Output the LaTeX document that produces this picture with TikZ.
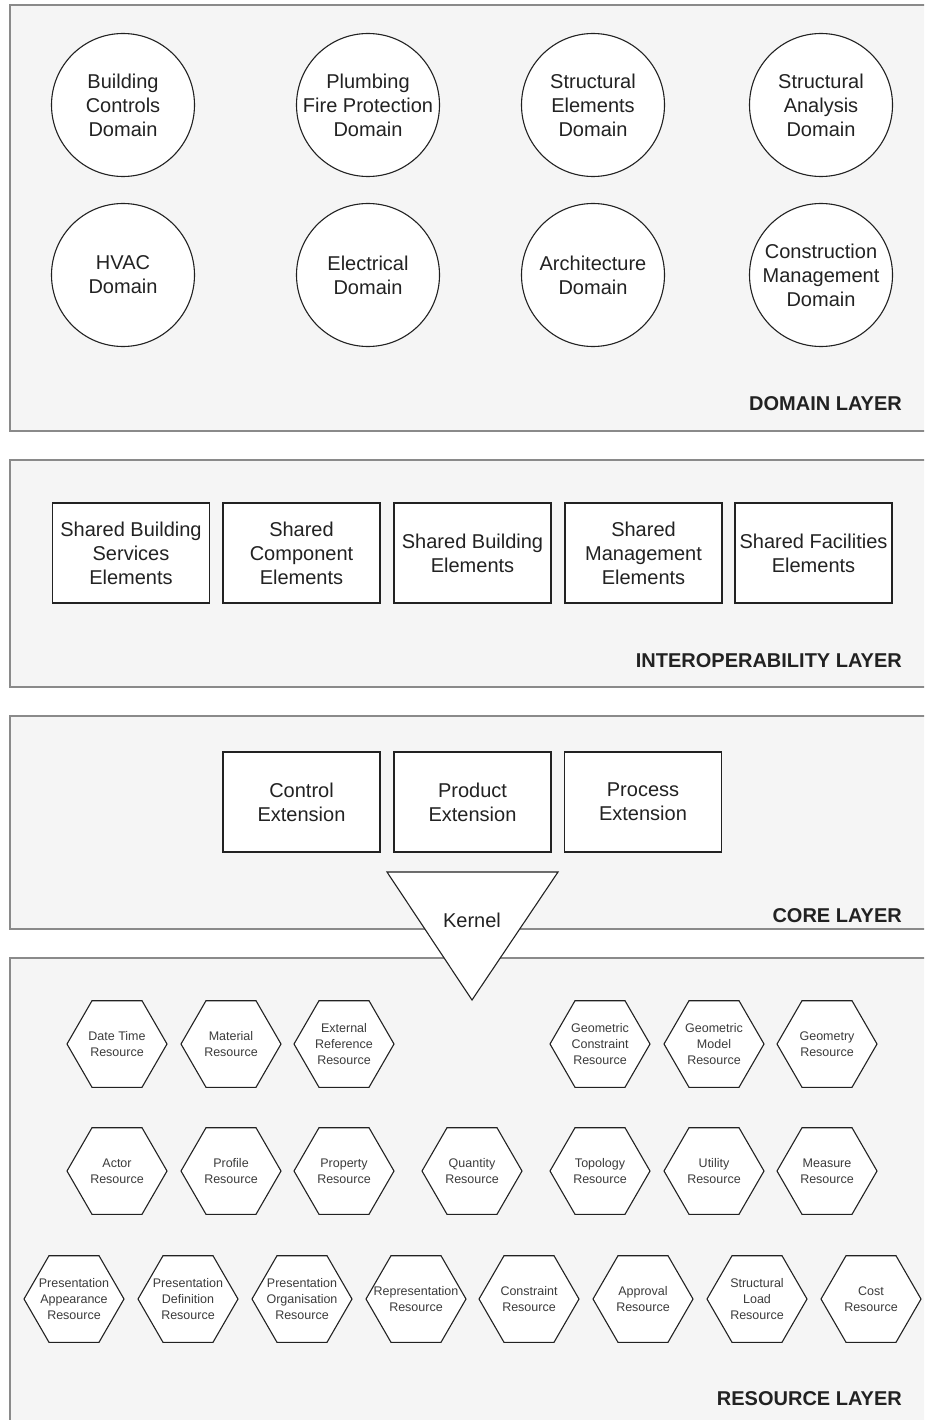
\documentclass[tikz,border=0pt]{standalone}
\usepackage{fontspec}
\setmainfont{Liberation Sans}
\usetikzlibrary{shapes.geometric}
\definecolor{layerfill}{HTML}{F5F5F5}
\definecolor{layerline}{HTML}{8A8A8A}
\definecolor{ink}{HTML}{222222}
\definecolor{hexink}{HTML}{3C3C3C}
\newcommand{\bigtext}{\fontsize{20}{24}\selectfont}
\newcommand{\smalltext}{\fontsize{12.5}{15.6}\selectfont}

\begin{document}
\begin{tikzpicture}[x=1pt,y=-1pt,
  layer/.style={draw=layerline, fill=layerfill, line width=1.2pt},
  layertitle/.style={anchor=base east, font=\bigtext\bfseries, text=ink, inner sep=0pt},
  domain/.style={circle, draw=ink, fill=white, line width=1.1pt, minimum size=143pt, inner sep=0pt,
    label={[font=\bigtext, align=center, text=ink, inner sep=0pt]center:{#1}}},
  module/.style={rectangle, draw=ink, fill=white, line width=1.1pt, minimum width=157pt,
    minimum height=100pt, inner sep=1pt, align=center, font=\bigtext, text=ink},
  resource/.style={regular polygon, regular polygon sides=6, minimum size=100pt, inner sep=0pt,
    draw=ink, fill=white, line width=1.1pt,
    label={[font=\smalltext, align=center, text=hexink, inner sep=0pt]center:{#1}}},
]
\useasboundingbox (0,0) rectangle (924,1420);
\clip (0,0) rectangle (924,1420);

% layer panels
\path[layer] (10,5) rectangle (940,431);
\path[layer] (10,460) rectangle (940,687);
\path[layer] (10,716) rectangle (940,929);
\path[layer] (10,958) rectangle (940,1440);

\node[layertitle] (domlbl) at (902,410) {DOMAIN LAYER};
\node[layertitle] (intlbl) at (902,667) {INTEROPERABILITY LAYER};
\node[layertitle] (corelbl) at (902,922) {CORE LAYER};
\node[layertitle] (reslbl) at (902,1405) {RESOURCE LAYER};

% domain layer
\node[domain={Building\\Controls\\Domain}] (bcd) at (123,105) {};
\node[domain={Plumbing\\Fire Protection\\Domain}] (pfd) at (368,105) {};
\node[domain={Structural\\Elements\\Domain}] (sed) at (593,105) {};
\node[domain={Structural\\Analysis\\Domain}] (sad) at (821,105) {};
\node[domain={HVAC\\Domain}] (hvac) at (123,275) {};
\node[domain={Electrical\\Domain}] (eld) at (368,275) {};
\node[domain={Architecture\\Domain}] (ard) at (593,275) {};
\node[domain={Construction\\Management\\Domain}] (cmd) at (821,275) {};

% interoperability layer
\node[module] (sbse) at (131,553) {Shared Building\\Services\\Elements};
\node[module] (sce) at (301.5,553) {Shared\\Component\\Elements};
\node[module] (sbe) at (472.5,553) {Shared Building\\Elements};
\node[module] (sme) at (643.5,553) {Shared\\Management\\Elements};
\node[module] (sfe) at (813.5,553) {Shared Facilities\\Elements};

% core layer
\node[module] (ctrl) at (301.5,802) {Control\\Extension};
\node[module] (prod) at (472.5,802) {Product\\Extension};
\node[module] (proc) at (643,802) {Process\\Extension};

% resource layer, first row
\node[resource={Date Time\\Resource}] (dtr) at (117,1044) {};
\node[resource={Material\\Resource}] (mtr) at (231,1044) {};
\node[resource={External\\Reference\\Resource}] (err) at (344,1044) {};
\node[resource={Geometric\\Constraint\\Resource}] (gcr) at (600,1044) {};
\node[resource={Geometric\\Model\\Resource}] (gmr) at (714,1044) {};
\node[resource={Geometry\\Resource}] (ger) at (827,1044) {};

% second row
\node[resource={Actor\\Resource}] (acr) at (117,1171) {};
\node[resource={Profile\\Resource}] (pfr) at (231,1171) {};
\node[resource={Property\\Resource}] (ppr) at (344,1171) {};
\node[resource={Quantity\\Resource}] (qtr) at (472,1171) {};
\node[resource={Topology\\Resource}] (tpr) at (600,1171) {};
\node[resource={Utility\\Resource}] (utr) at (714,1171) {};
\node[resource={Measure\\Resource}] (msr) at (827,1171) {};

% third row
\node[resource={Presentation\\Appearance\\Resource}] (par) at (74,1299) {};
\node[resource={Presentation\\Definition\\Resource}] (pdr) at (188,1299) {};
\node[resource={Presentation\\Organisation\\Resource}] (por) at (302,1299) {};
\node[resource={Representation\\Resource}] (rpr) at (416,1299) {};
\node[resource={Constraint\\Resource}] (csr) at (529,1299) {};
\node[resource={Approval\\Resource}] (apr) at (643,1299) {};
\node[resource={Structural\\Load\\Resource}] (slr) at (757,1299) {};
\node[resource={Cost\\Resource}] (cor) at (871,1299) {};

% kernel, reaching down into the resource layer
\draw[draw=ink, fill=white, line width=1.1pt] (387,872) -- (558,872) -- (472,1000) -- cycle;
\node[anchor=base, font=\bigtext, text=ink, inner sep=0pt] (kernel) at (472,927) {Kernel};
\end{tikzpicture}
\end{document}
